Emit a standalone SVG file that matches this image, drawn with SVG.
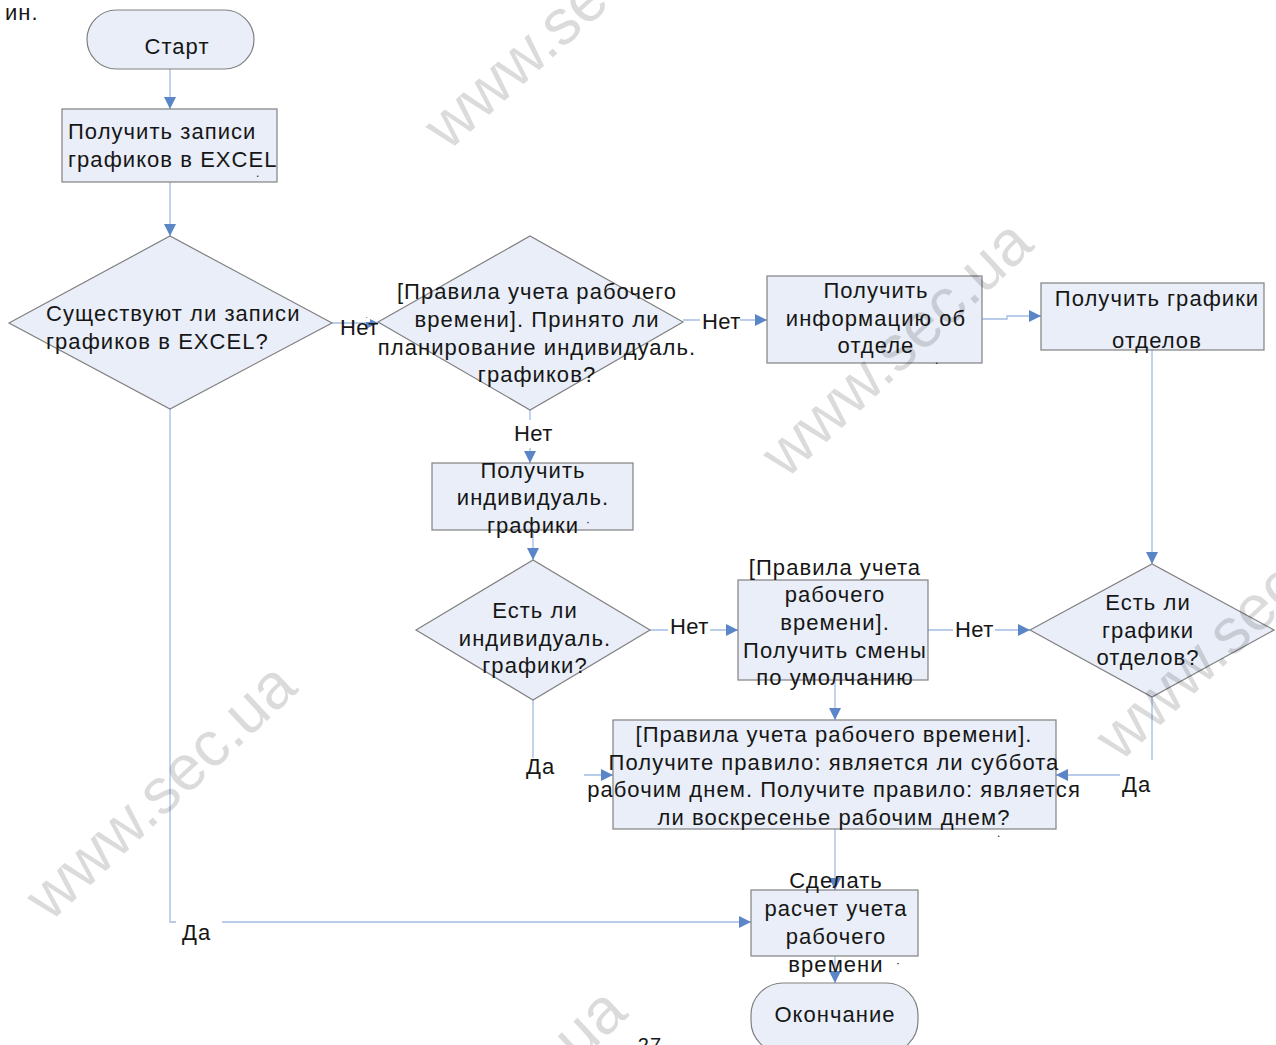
<svg xmlns="http://www.w3.org/2000/svg" width="1276" height="1045" viewBox="0 0 1276 1045">
<defs>
<style>
.n{fill:#e9eef8;stroke:#808080;stroke-width:1.2}
.t{font-family:"Liberation Sans",Arial,sans-serif;font-size:22px;fill:#161616;letter-spacing:1.05px}
.c{text-anchor:middle}
.l{letter-spacing:0.4px}
.e{fill:none;stroke:#a3bce4;stroke-width:1.3}
.lb{fill:#ffffff}
.wm{font-family:"Liberation Sans",Arial,sans-serif;font-size:64px;fill:#000;fill-opacity:0.14}
</style>
<marker id="a" markerUnits="userSpaceOnUse" markerWidth="13" markerHeight="13" refX="12" refY="6" orient="auto">
<path d="M0,0 L12,6 L0,12 Z" fill="#5a86c8"/>
</marker>
</defs>
<rect width="1276" height="1045" fill="#ffffff"/>
<text class="t" x="5" y="20">ин.</text>
<text class="t c" x="650" y="1052" style="font-size:20px">27</text>

<g id="connectors">
<path class="e" d="M170,69 V109" marker-end="url(#a)"/>
<path class="e" d="M170,182 V236" marker-end="url(#a)"/>
<path class="e" d="M332,323 H378" marker-end="url(#a)"/>
<path class="e" d="M683,320 H767" marker-end="url(#a)"/>
<path class="e" d="M982,319 H1007 V316 H1041" marker-end="url(#a)"/>
<path class="e" d="M1152,350 V564" marker-end="url(#a)"/>
<path class="e" d="M530,410 V463" marker-end="url(#a)"/>
<path class="e" d="M533,530 V560" marker-end="url(#a)"/>
<path class="e" d="M650,630 H738" marker-end="url(#a)"/>
<path class="e" d="M928,630 H1030" marker-end="url(#a)"/>
<path class="e" d="M835,680 V720" marker-end="url(#a)"/>
<path class="e" d="M533,700 V775 H613" marker-end="url(#a)"/>
<path class="e" d="M1152,697 V775 H1056" marker-end="url(#a)"/>
<path class="e" d="M835,829 V890" marker-end="url(#a)"/>
<path class="e" d="M835,956 V983" marker-end="url(#a)"/>
<path class="e" d="M170,409 V922 H751" marker-end="url(#a)"/>
<g id="labels">
<rect class="lb" x="340" y="318" width="30" height="4"/>
<text class="t l" x="340" y="335">Нет</text>
<rect class="lb" x="700" y="316" width="40" height="8"/>
<text class="t l" x="702" y="329">Нет</text>
<rect class="lb" x="512" y="420" width="40" height="28"/>
<text class="t l" x="514" y="441">Нет</text>
<rect class="lb" x="668" y="626" width="42" height="8"/>
<text class="t l" x="670" y="634">Нет</text>
<rect class="lb" x="953" y="626" width="42" height="8"/>
<text class="t l" x="955" y="637">Нет</text>
<rect class="lb" x="524" y="758" width="60" height="22"/>
<text class="t" x="526" y="774">Да</text>
<rect class="lb" x="1120" y="760" width="34" height="34"/>
<text class="t" x="1122" y="792">Да</text>
<rect class="lb" x="176" y="918" width="46" height="8"/>
<text class="t" x="182" y="940">Да</text>
</g>
</g>

<g id="start">
<rect class="n" x="87" y="10" width="167" height="59" rx="29.5"/>
<text class="t c" x="177" y="54">Старт</text>
</g>
<g id="get-records">
<rect class="n" x="62" y="109" width="215" height="73"/>
<text class="t" x="68" y="139">Получить записи</text>
<text class="t" x="68" y="167">графиков в EXCEL</text>
<text class="t" x="256" y="177" style="font-size:12px">.</text>
</g>
<g id="records-exist">
<polygon class="n" points="9,323 170,236 332,323 170,409"/>
<text class="t" x="46" y="321">Существуют ли записи</text>
<text class="t" x="46" y="349">графиков в EXCEL?</text>
</g>
<g id="individual-planning">
<polygon class="n" points="378,322 530,236 683,322 530,410"/>
<text class="t c" x="537" y="299">[Правила учета рабочего</text>
<text class="t c" x="537" y="327">времени]. Принято ли</text>
<text class="t c" x="537" y="355">планирование индивидуаль.</text>
<text class="t c" x="537" y="382">графиков?</text>
</g>
<g id="dept-info">
<rect class="n" x="767" y="276" width="215" height="87"/>
<text class="t c" x="876" y="298">Получить</text>
<text class="t c" x="876" y="326">информацию об</text>
<text class="t c" x="876" y="353">отделе</text>
<text class="t" x="935" y="364" style="font-size:12px">.</text>
</g>
<g id="dept-schedules">
<rect class="n" x="1041" y="283" width="223" height="67"/>
<text class="t c" x="1157" y="306">Получить графики</text>
<text class="t c" x="1157" y="348">отделов</text>
</g>
<g id="get-individual">
<rect class="n" x="432" y="463" width="201" height="67"/>
<text class="t c" x="533" y="478">Получить</text>
<text class="t c" x="533" y="505">индивидуаль.</text>
<text class="t c" x="533" y="533">графики</text>
<text class="t" x="586" y="526" style="font-size:12px">·</text>
</g>
<g id="individual-exist">
<polygon class="n" points="416,630 533,560 650,630 533,700"/>
<text class="t c" x="535" y="618">Есть ли</text>
<text class="t c" x="535" y="646">индивидуаль.</text>
<text class="t c" x="535" y="673">графики?</text>
</g>
<g id="default-shifts">
<rect class="n" x="738" y="580" width="190" height="100"/>
<text class="t c" x="835" y="575">[Правила учета</text>
<text class="t c" x="835" y="602">рабочего</text>
<text class="t c" x="835" y="630">времени].</text>
<text class="t c" x="835" y="658">Получить смены</text>
<text class="t c" x="835" y="685">по умолчанию</text>
</g>
<g id="dept-exist">
<polygon class="n" points="1030,630 1152,564 1274,630 1152,697"/>
<text class="t c" x="1148" y="610">Есть ли</text>
<text class="t c" x="1148" y="638">графики</text>
<text class="t c" x="1148" y="665">отделов?</text>
</g>
<g id="weekend-rules">
<rect class="n" x="613" y="720" width="443" height="109"/>
<text class="t c" x="834" y="742">[Правила учета рабочего времени].</text>
<text class="t c" x="834" y="770">Получите правило: является ли суббота</text>
<text class="t c" x="834" y="797">рабочим днем. Получите правило: является</text>
<text class="t c" x="834" y="825">ли воскресенье рабочим днем?</text>
<text class="t" x="997" y="837" style="font-size:12px">.</text>
</g>
<g id="calculate">
<rect class="n" x="751" y="890" width="167" height="66"/>
<text class="t c" x="836" y="888">Сделать</text>
<text class="t c" x="836" y="916">расчет учета</text>
<text class="t c" x="836" y="944">рабочего</text>
<text class="t c" x="836" y="972">времени</text>
<text class="t" x="896" y="967" style="font-size:12px">·</text>
</g>
<g id="end">
<rect class="n" x="751" y="983" width="167" height="70" rx="32"/>
<text class="t c" x="835" y="1022">Окончание</text>
</g>

<g id="watermarks">
<text class="wm" transform="translate(448,152) rotate(-42)">www.sec.ua</text>
<text class="wm" transform="translate(786,480) rotate(-43)">www.sec.ua</text>
<text class="wm" transform="translate(50,923) rotate(-43)">www.sec.ua</text>
<text class="wm" transform="translate(1120,763) rotate(-43)">www.sec.ua</text>
<text class="wm" transform="translate(380,1248) rotate(-43)">www.sec.ua</text>
</g>
</svg>
